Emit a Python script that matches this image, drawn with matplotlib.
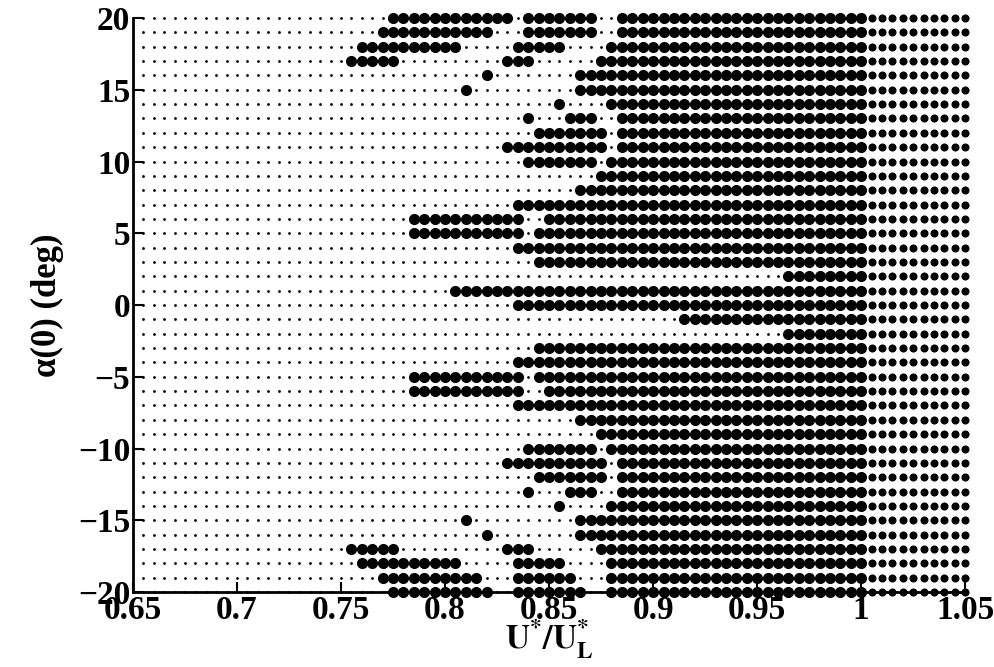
import numpy as np
import matplotlib
matplotlib.use("Agg")
import matplotlib.pyplot as plt

plt.rcParams["font.family"] = ["Liberation Serif", "DejaVu Serif"]
plt.rcParams["font.weight"] = "bold"
plt.rcParams["mathtext.fontset"] = "stix"

# sampling grid of the sweep
u_ratio = np.round(np.arange(0.655, 1.0501, 0.005), 3)
alpha0 = np.arange(20, -21, -1)

# runs of large dots (inclusive U*/U_L* ranges), one list per alpha(0), 20 -> 0
runs_upper = [
    [(0.775, 0.83), (0.84, 0.87), (0.885, 1.05)],   # 20
    [(0.77, 0.82), (0.84, 0.87), (0.885, 1.05)],    # 19
    [(0.76, 0.805), (0.835, 0.855), (0.88, 1.05)],  # 18
    [(0.755, 0.775), (0.83, 0.84), (0.875, 1.05)],  # 17
    [(0.82, 0.82), (0.865, 1.05)],                  # 16
    [(0.81, 0.81), (0.865, 1.05)],                  # 15
    [(0.855, 0.855), (0.88, 1.05)],                 # 14
    [(0.84, 0.84), (0.86, 0.87), (0.885, 1.05)],    # 13
    [(0.845, 0.875), (0.885, 1.05)],                # 12
    [(0.83, 0.875), (0.885, 1.05)],                 # 11
    [(0.84, 0.87), (0.88, 1.05)],                   # 10
    [(0.875, 1.05)],                                # 9
    [(0.865, 1.05)],                                # 8
    [(0.835, 1.05)],                                # 7
    [(0.785, 0.835), (0.85, 1.05)],                 # 6
    [(0.785, 0.835), (0.845, 1.05)],                # 5
    [(0.835, 1.05)],                                # 4
    [(0.845, 1.05)],                                # 3
    [(0.965, 1.05)],                                # 2
    [(0.805, 1.05)],                                # 1
    [(0.835, 1.05)],                                # 0
]
# -1 -> -20
runs_lower = [
    [(0.915, 1.05)],                                # -1
    [(0.965, 1.05)],                                # -2
    [(0.845, 1.05)],                                # -3
    [(0.835, 1.05)],                                # -4
    [(0.785, 0.835), (0.845, 1.05)],                # -5
    [(0.785, 0.835), (0.85, 1.05)],                 # -6
    [(0.835, 1.05)],                                # -7
    [(0.865, 1.05)],                                # -8
    [(0.875, 1.05)],                                # -9
    [(0.84, 0.87), (0.88, 1.05)],                   # -10
    [(0.83, 0.875), (0.885, 1.05)],                 # -11
    [(0.845, 0.875), (0.885, 1.05)],                # -12
    [(0.84, 0.84), (0.86, 0.87), (0.885, 1.05)],    # -13
    [(0.855, 0.855), (0.88, 1.05)],                 # -14
    [(0.81, 0.81), (0.865, 1.05)],                  # -15
    [(0.82, 0.82), (0.865, 1.05)],                  # -16
    [(0.755, 0.775), (0.83, 0.84), (0.875, 1.05)],  # -17
    [(0.76, 0.805), (0.835, 0.855), (0.88, 1.05)],  # -18
    [(0.77, 0.815), (0.835, 0.86), (0.88, 1.05)],   # -19
    [(0.775, 0.82), (0.835, 0.865), (0.88, 1.05)],  # -20
]
u_linear = 1.0  # beyond this the large dots are drawn smaller

runs = runs_upper + runs_lower

small_x, small_y, big_x, big_y, mid_x, mid_y = [], [], [], [], [], []
for a, row in zip(alpha0, runs):
    for u in u_ratio:
        hit = any(lo - 1e-9 <= u <= hi + 1e-9 for lo, hi in row)
        if not hit:
            small_x.append(u); small_y.append(a)
        elif u > u_linear + 1e-9:
            mid_x.append(u); mid_y.append(a)
        else:
            big_x.append(u); big_y.append(a)

fig = plt.figure(figsize=(9.95, 6.67), dpi=100)
ax = fig.add_axes([0.1337, 0.1124, 0.8363, 0.8606])

ax.plot(small_x, small_y, "o", color="k", ms=2.0, mew=0, clip_on=False)
ax.plot(big_x, big_y, "o", color="k", ms=8.0, mew=0, clip_on=False)
ax.plot(mid_x, mid_y, "o", color="k", ms=5.8, mew=0, clip_on=False)

ax.set_xlim(0.65, 1.05)
ax.set_ylim(-20, 20)
ax.set_xticks([0.65, 0.7, 0.75, 0.8, 0.85, 0.9, 0.95, 1.0, 1.05])
ax.set_xticklabels(["0.65", "0.7", "0.75", "0.8", "0.85", "0.9", "0.95", "1", "1.05"])
ax.set_yticks(np.arange(-20, 21, 5))

for side in ["top", "right"]:
    ax.spines[side].set_visible(False)
for side in ["left", "bottom"]:
    ax.spines[side].set_linewidth(2.0)

ax.tick_params(direction="in", length=7, width=1.5, labelsize=24, pad=2)

ax.set_xlabel(r"$\mathbf{U^{*}/U_{L}^{*}}$", fontsize=24, labelpad=-6)
ax.set_ylabel("α(0) (deg)", fontsize=25, fontweight="bold", labelpad=10)

fig.savefig("out.png", dpi=100)
